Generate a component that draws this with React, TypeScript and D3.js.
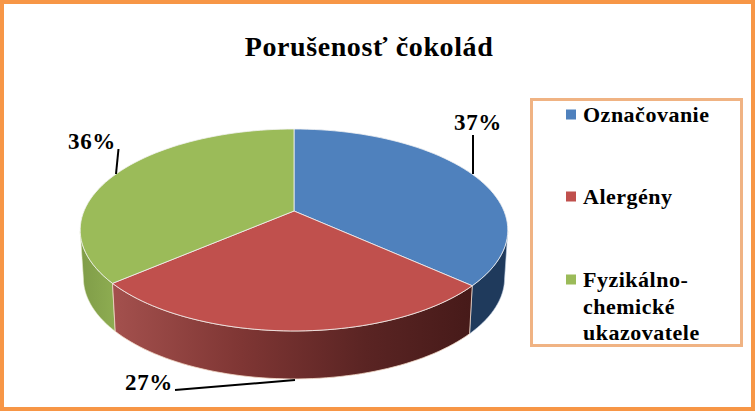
import * as d3 from "d3";

const categories = ["Označovanie", "Alergény", "Fyzikálno-chemické ukazovatele"];
// slice sizes, the labels show them rounded
const values = [36.7, 27, 36.3];
const topColors = ["#4f81bd", "#c0504d", "#9bbb59"];
const legendLines = [["Označovanie"], ["Alergény"], ["Fyzikálno-", "chemické", "ukazovatele"]];
const labelText = ["37%", "27%", "36%"];

const width = 755;
const height = 411;
const font = "'Liberation Serif', 'Times New Roman', serif";

// pie is tilted in perspective, so the top face is not a plain ellipse
const apex = { x: 294, y: 211 };
const persp = 0.188;
const radiusX = 210;
const radiusY = 97.4;
const depth = 48;

const pieAngles = d3.pie<number>().sort(null)(values);

function project(a: number, r = 1, dy = 0, shrink = 1): [number, number] {
  const X = Math.sin(a) * r;
  const Y = Math.cos(a) * r;
  const w = 1 + persp * Y;
  return [
    apex.x + (radiusX * shrink * X) / w,
    apex.y + dy - (radiusY * Y) / w,
  ];
}

const line = d3.line();

function arcPoints(from: number, to: number, dy = 0, shrink = 1) {
  return d3
    .range(0, 61)
    .map((i) => project(from + ((to - from) * i) / 60, 1, dy, shrink));
}

// front part of the rim only, the back of the wall is hidden by the top
function wallPath(from: number, to: number) {
  const topEdge = arcPoints(from, to);
  const bottomEdge = arcPoints(from, to, depth, 0.985).reverse();
  return line([...topEdge, ...bottomEdge]) + "Z";
}

export default function App() {
  const blue = pieAngles[0];
  const red = pieAngles[1];
  const green = pieAngles[2];
  const rightSide = Math.PI / 2 + 0.2;
  const leftSide = Math.PI * 1.5 - 0.2;

  return (
    <svg
      width={width}
      height={height}
      style={{ position: "absolute", left: 0, top: 0, background: "#fff" }}
      fontFamily={font}
      fontWeight="bold"
    >
      <defs>
        <linearGradient id="redWall" gradientUnits="userSpaceOnUse" x1={115} x2={474} y1={0} y2={0}>
          <stop offset={0} stopColor="#a3504d" />
          <stop offset={0.35} stopColor="#7f3634" />
          <stop offset={0.7} stopColor="#5a2423" />
          <stop offset={1} stopColor="#461a19" />
        </linearGradient>
        <linearGradient id="greenWall" gradientUnits="userSpaceOnUse" x1={80} x2={118} y1={0} y2={0}>
          <stop offset={0} stopColor="#7f9c48" />
          <stop offset={1} stopColor="#8fae52" />
        </linearGradient>
      </defs>

      <rect x={2} y={2} width={width - 4} height={height - 4} fill="#fff" stroke="#f79646" strokeWidth={4} />

      <text x={369} y={56} textAnchor="middle" fontSize={28} letterSpacing={0.6}>
        Porušenosť čokolád
      </text>

      {/* side walls */}
      <path d={wallPath(blue.endAngle, rightSide)} fill="#1f3a5c" stroke="#c6d4e6" strokeWidth={0.6} />
      <path d={wallPath(green.startAngle, leftSide)} fill="url(#greenWall)" stroke="#e8eccf" strokeWidth={0.6} />
      <path d={wallPath(red.startAngle, red.endAngle)} fill="url(#redWall)" stroke="#f3d9c8" strokeWidth={0.8} />

      {/* top face */}
      {pieAngles.map((d, i) => (
        <path
          key={categories[i]}
          d={line([[apex.x, apex.y], ...arcPoints(d.startAngle, d.endAngle)]) + "Z"}
          fill={topColors[i]}
          stroke="#f2f2f2"
          strokeWidth={0.8}
        />
      ))}

      {/* leader lines and data labels */}
      <polyline points="473,135 473,174" fill="none" stroke="#000" strokeWidth={2} />
      <polyline points="116,174 118.5,149" fill="none" stroke="#000" strokeWidth={2} />
      <polyline points="175,390 295,380" fill="none" stroke="#000" strokeWidth={2} />
      <text x={478} y={130} textAnchor="middle" fontSize={23} letterSpacing={0.6}>{labelText[0]}</text>
      <text x={149} y={390} textAnchor="middle" fontSize={23} letterSpacing={0.6}>{labelText[1]}</text>
      <text x={92} y={149} textAnchor="middle" fontSize={23} letterSpacing={0.6}>{labelText[2]}</text>

      {/* legend */}
      <rect x={531.5} y={99.5} width={210} height={246} fill="#fff" stroke="#f0b383" strokeWidth={3} />
      {legendLines.map((lines, i) => {
        const y = [122, 204, 287][i];
        return (
          <g key={lines[0]}>
            <rect x={566} y={y - 12.5} width={10} height={10} fill={topColors[i]} />
            {lines.map((t, j) => (
              <text key={t} x={583} y={y + j * 26.5} fontSize={22} letterSpacing={0.5}>
                {t}
              </text>
            ))}
          </g>
        );
      })}
    </svg>
  );
}
